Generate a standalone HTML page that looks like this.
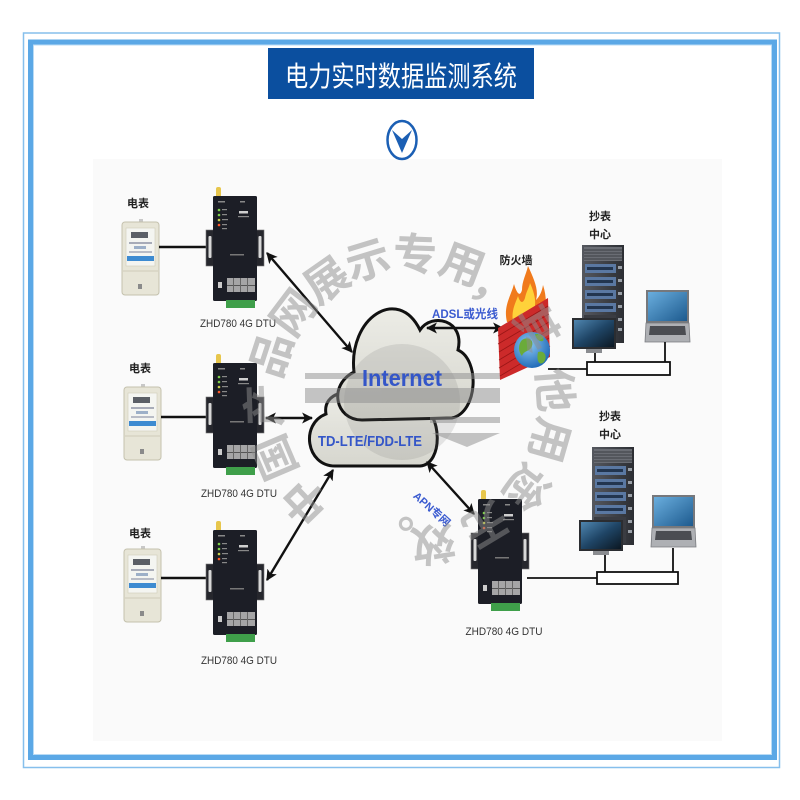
<!DOCTYPE html>
<html><head><meta charset="utf-8">
<style>
html,body{margin:0;padding:0;background:#fff;}
svg{display:block;}
text{font-family:"Liberation Sans","Noto Sans CJK SC",sans-serif;}
</style></head><body>
<svg width="800" height="800" viewBox="0 0 800 800" xmlns="http://www.w3.org/2000/svg">
<defs>
 <marker id="ah" viewBox="0 0 10 10" refX="9" refY="5" markerWidth="4.6" markerHeight="4.6" orient="auto-start-reverse"><path d="M0,0 L10,5 L0,10 L2.5,5 Z" fill="#111"/></marker>
 <linearGradient id="cl" x1="0" y1="0" x2="0" y2="1"><stop offset="0" stop-color="#ececE6"/><stop offset="1" stop-color="#d6d6ce"/></linearGradient>
 <linearGradient id="scr" x1="0" y1="0" x2="1" y2="1"><stop offset="0" stop-color="#4f86b0"/><stop offset=".5" stop-color="#1f4566"/><stop offset="1" stop-color="#0b1722"/></linearGradient>
 <linearGradient id="lapg" x1="0" y1="0" x2="1" y2="1"><stop offset="0" stop-color="#6aaede"/><stop offset="1" stop-color="#1d5a8e"/></linearGradient>
 <radialGradient id="glb" cx=".4" cy=".35" r=".7"><stop offset="0" stop-color="#8cc8f2"/><stop offset="1" stop-color="#1b66b5"/></radialGradient>
 <linearGradient id="srvg" x1="0" y1="0" x2="1" y2="0"><stop offset="0" stop-color="#55585f"/><stop offset="1" stop-color="#2c2e33"/></linearGradient>
 <g id="meter">
  <rect x="17" y="-3" width="4" height="3" fill="#c8c8c8"/>
  <rect x="0" y="0" width="37" height="73" rx="3" fill="#e7e5d7" stroke="#c4c1ad" stroke-width="1"/>
  <rect x="4" y="6" width="29" height="38" fill="#f4f5f1" stroke="#cfccba" stroke-width=".6"/>
  <rect x="9" y="10" width="17" height="6" fill="#5b5f66"/>
  <rect x="7" y="20" width="23" height="2" fill="#a8acb8"/>
  <rect x="12" y="24" width="12" height="3" fill="#9db0c8"/>
  <rect x="7" y="29" width="23" height="2" fill="#b8bcc6"/>
  <rect x="5" y="34" width="27" height="5" fill="#3d8bd1"/>
  <line x1="1" y1="49" x2="36" y2="49" stroke="#cfcbb8" stroke-width="1"/>
  <rect x="16" y="62" width="4" height="5" fill="#8a8a8a"/>
 </g>
 <g id="dtu">
  <rect x="3" y="-9" width="5" height="11" rx="2" fill="#e7c64c"/>
  <rect x="-7" y="34" width="9" height="36" fill="#26272d" stroke="#777" stroke-width=".6"/>
  <rect x="-4.5" y="40" width="3" height="22" rx="1" fill="#d8d8d8"/>
  <rect x="42" y="34" width="9" height="36" fill="#26272d" stroke="#777" stroke-width=".6"/>
  <rect x="45.5" y="40" width="3" height="22" rx="1" fill="#d8d8d8"/>
  <rect x="0" y="0" width="44" height="105" rx="1.5" fill="#1c1e26"/>
  <rect x="5" y="5" width="7" height="1.5" fill="#888"/>
  <rect x="27" y="5" width="5" height="1.5" fill="#888"/>
  <circle cx="6" cy="14" r="1.3" fill="#7fd04a"/>
  <circle cx="6" cy="19" r="1.3" fill="#7fd04a"/>
  <circle cx="6" cy="24" r="1.3" fill="#c8d04a"/>
  <circle cx="6" cy="29" r="1.3" fill="#ff5a2a"/>
  <rect x="9" y="13" width="5" height="1.2" fill="#888"/>
  <rect x="9" y="18" width="5" height="1.2" fill="#888"/>
  <rect x="9" y="23" width="6" height="1.2" fill="#888"/>
  <rect x="9" y="28" width="5" height="1.2" fill="#888"/>
  <rect x="9" y="32" width="5" height="1.2" fill="#888"/>
  <rect x="26" y="15" width="9" height="2.5" fill="#cfcfcf"/>
  <rect x="25" y="20" width="11" height="1.2" fill="#888"/>
  <rect x="17" y="58" width="14" height="1.5" fill="#777"/>
  <rect x="14" y="82" width="28" height="14" fill="#bdbdbd" opacity=".85"/>
  <rect x="14" y="89" width="28" height="1" fill="#555"/>
  <rect x="20" y="82" width="1" height="14" fill="#666"/>
  <rect x="27" y="82" width="1" height="14" fill="#666"/>
  <rect x="34" y="82" width="1" height="14" fill="#666"/>
  <rect x="5" y="86" width="4" height="6" fill="#ccc"/>
  <rect x="13" y="104" width="29" height="8" fill="#3f9f4a"/>
 </g>
 <g id="srv">
  <rect width="42" height="98" fill="url(#srvg)"/>
  <rect x="2" y="2" width="38" height="14" fill="#6a6d74"/>
  <g stroke="#2e3034" stroke-width=".8"><line x1="2" y1="5" x2="40" y2="5"/><line x1="2" y1="8" x2="40" y2="8"/><line x1="2" y1="11" x2="40" y2="11"/><line x1="2" y1="14" x2="40" y2="14"/></g>
  <rect x="3" y="19" width="31" height="9" fill="#5a78a2"/><rect x="5" y="22" width="26" height="3" fill="#22354f"/>
  <rect x="3" y="32" width="31" height="9" fill="#5a78a2"/><rect x="5" y="35" width="26" height="3" fill="#22354f"/>
  <rect x="3" y="45" width="31" height="9" fill="#5a78a2"/><rect x="5" y="48" width="26" height="3" fill="#22354f"/>
  <rect x="3" y="58" width="31" height="9" fill="#5a78a2"/><rect x="5" y="61" width="26" height="3" fill="#22354f"/>
  <g fill="#9aa0a8"><rect x="36" y="21" width="4" height="3"/><rect x="36" y="34" width="4" height="3"/><rect x="36" y="47" width="4" height="3"/><rect x="36" y="60" width="4" height="3"/><rect x="36" y="73" width="4" height="3"/><rect x="36" y="83" width="4" height="3"/></g>
  <rect x="2" y="70" width="32" height="26" fill="#3a3c42"/>
 </g>
 <g id="mon">
  <rect x="14" y="30" width="16" height="5" fill="#8a8c90"/>
  <rect width="44" height="31" fill="#2b2d31"/>
  <rect x="2" y="2" width="40" height="27" fill="url(#scr)"/>
 </g>
 <g id="laptop">
  <rect width="43" height="33" fill="#76787c"/>
  <rect x="2" y="2" width="39" height="29" fill="url(#lapg)"/>
  <polygon points="0,33 43,33 44,52 -1,52" fill="#aeb0b4" stroke="#7a7c80" stroke-width=".8"/>
  <polygon points="4,36 39,36 40,45 3,45" fill="#4b4d52"/>
 </g>
</defs>

<!-- frame -->
<rect x="23.5" y="33" width="756" height="734.5" fill="none" stroke="#86bfec" stroke-width="1.5"/>
<rect x="30.5" y="42" width="744" height="715.5" fill="none" stroke="#5ba8e6" stroke-width="5"/>
<rect x="33.5" y="45" width="738" height="709.5" fill="none" stroke="#b9dbf5" stroke-width="1"/>

<!-- diagram panel -->
<rect x="93" y="159" width="629" height="582" fill="#fafafa"/>

<!-- title -->
<rect x="268" y="48" width="266" height="51" fill="#0b4f9f"/>
<text x="401" y="86" font-size="28" fill="#fff" text-anchor="middle" textLength="232" lengthAdjust="spacingAndGlyphs">电力实时数据监测系统</text>

<!-- down icon -->
<ellipse cx="402" cy="140" rx="14.5" ry="19" fill="#fff" stroke="#1b5fb4" stroke-width="2.5"/>
<polygon points="392,130 402,139 412,130 402,153" fill="#1b5fb4"/>

<!-- meters -->
<g font-size="11" font-weight="bold" fill="#222" text-anchor="middle">
 <text x="138" y="207">电表</text>
 <text x="140" y="372">电表</text>
 <text x="140" y="537">电表</text>
</g>
<use href="#meter" x="122" y="222"/>
<use href="#meter" x="124" y="387"/>
<use href="#meter" x="124" y="549"/>
<g stroke="#111" stroke-width="2.6">
 <line x1="159" y1="247" x2="207" y2="247"/>
 <line x1="161" y1="417" x2="207" y2="417"/>
 <line x1="161" y1="578" x2="207" y2="578"/>
</g>

<!-- DTUs -->
<use href="#dtu" x="213" y="196"/>
<use href="#dtu" x="213" y="363"/>
<use href="#dtu" x="213" y="530"/>
<use href="#dtu" x="478" y="499"/>
<g font-size="11" fill="#333" text-anchor="middle">
 <text x="238" y="327" textLength="76" lengthAdjust="spacingAndGlyphs">ZHD780  4G DTU</text>
 <text x="239" y="497" textLength="76" lengthAdjust="spacingAndGlyphs">ZHD780  4G DTU</text>
 <text x="239" y="664" textLength="76" lengthAdjust="spacingAndGlyphs">ZHD780  4G DTU</text>
 <text x="504" y="635" textLength="77" lengthAdjust="spacingAndGlyphs">ZHD780  4G DTU</text>
</g>

<!-- clouds -->
<path d="M335,466 C306,466 300,424 326,414 C322,392 352,386 368,400 L420,405 C442,412 444,464 420,466 Z" fill="url(#cl)" stroke="#111" stroke-width="3"/>
<path d="M362,420 C335,420 328,385 354,372 C348,318 398,285 420,330 C432,312 465,320 458,350 C480,360 478,412 452,418 Z" fill="url(#cl)" stroke="#111" stroke-width="3"/>

<!-- logo overlay -->
<circle cx="402" cy="402" r="58" fill="#6f6f6f" opacity=".16"/>
<g fill="#8c8c8c" opacity=".5">
 <rect x="305" y="373" width="195" height="6"/>
 <rect x="305" y="388" width="195" height="15"/>
 <rect x="430" y="417" width="70" height="6"/>
 <polygon points="432,433 500,433 467,447"/>
</g>

<!-- arrows -->
<g stroke="#111" stroke-width="2.4" marker-start="url(#ah)" marker-end="url(#ah)">
 <line x1="267" y1="253" x2="352" y2="352"/>
 <line x1="266" y1="418" x2="312" y2="418"/>
 <line x1="267" y1="580" x2="333" y2="470"/>
 <line x1="427" y1="462" x2="474" y2="514"/>
 <line x1="427" y1="328" x2="503" y2="328"/>
</g>

<!-- cloud labels -->
<text x="402" y="386" font-size="23" font-weight="bold" fill="#3456c8" text-anchor="middle" textLength="80" lengthAdjust="spacingAndGlyphs">Internet</text>
<text x="370" y="446" font-size="15" font-weight="bold" fill="#3456c8" text-anchor="middle" textLength="104" lengthAdjust="spacingAndGlyphs">TD-LTE/FDD-LTE</text>
<text x="465" y="318" font-size="12" font-weight="bold" fill="#3b5bd0" text-anchor="middle" textLength="66" lengthAdjust="spacingAndGlyphs">ADSL或光线</text>
<text transform="translate(432,509) rotate(42)" font-size="11" font-weight="bold" fill="#3b5bd0" text-anchor="middle" dy="4">APN专网</text>

<!-- firewall -->
<text x="516" y="264" font-size="11" font-weight="bold" fill="#222" text-anchor="middle">防火墙</text>
<path d="M507,322 C503,306 511,296 514,284 C517,294 520,297 522,290 C522,281 526,275 528,266 C534,279 539,290 536,300 C540,296 542,291 543,285 C548,300 546,314 540,322 Z" fill="#f07a1c"/>
<path d="M513,322 C511,310 516,302 518,296 C520,303 523,304 525,298 C526,292 529,288 530,283 C534,292 537,302 534,310 C537,308 539,304 540,302 C541,310 539,318 536,322 Z" fill="#ffd23a"/>
<polygon points="498,328 548,298 550,357 500,380" fill="#cc2a2a"/>
<g stroke="#9b1616" stroke-width=".8">
 <line x1="498" y1="336" x2="548" y2="306"/>
 <line x1="498" y1="344" x2="549" y2="314"/>
 <line x1="499" y1="352" x2="549" y2="322"/>
 <line x1="499" y1="360" x2="549" y2="330"/>
 <line x1="499" y1="368" x2="549" y2="338"/>
 <line x1="500" y1="376" x2="550" y2="346"/>
</g>
<circle cx="532" cy="350" r="18" fill="url(#glb)"/>
<path d="M522,340 C528,336 534,340 532,346 C530,352 524,350 522,356 C518,352 518,344 522,340 Z" fill="#6aab3a"/>
<path d="M538,352 C544,350 548,356 544,362 C540,366 536,362 538,352 Z" fill="#6aab3a"/>
<path d="M535,334 C540,333 545,337 543,341 C539,342 536,339 535,334 Z" fill="#6aab3a"/>

<!-- center labels -->
<g font-size="11" font-weight="bold" fill="#222" text-anchor="middle">
 <text x="600" y="220">抄表</text>
 <text x="600" y="238">中心</text>
 <text x="610" y="420">抄表</text>
 <text x="610" y="438">中心</text>
</g>
<use href="#srv" x="582" y="245"/>
<use href="#mon" x="572" y="318"/>
<use href="#laptop" x="646" y="290"/>
<g stroke="#111" stroke-width="1.8">
 <line x1="548" y1="369" x2="587" y2="369"/>
 <line x1="595" y1="353" x2="595" y2="362"/>
 <line x1="665" y1="342" x2="665" y2="362"/>
</g>
<rect x="587" y="362" width="83" height="13" fill="#fff" stroke="#111" stroke-width="1.8"/>

<use href="#srv" x="592" y="447"/>
<use href="#mon" x="579" y="520"/>
<use href="#laptop" x="652" y="495"/>
<g stroke="#111" stroke-width="1.8">
 <line x1="527" y1="578" x2="597" y2="578"/>
 <line x1="605" y1="555" x2="605" y2="572"/>
 <line x1="673" y1="548" x2="673" y2="572"/>
</g>
<rect x="597" y="572" width="81" height="12" fill="#fff" stroke="#111" stroke-width="1.8"/>

<!-- watermark -->
<g font-size="44" font-weight="bold" fill="#8e8e8e" opacity=".5" text-anchor="middle" font-family="'Noto Sans CJK SC',sans-serif">
 <text transform="translate(306,501) rotate(226)" dy="15">中</text>
 <text transform="translate(276,457) rotate(247)" dy="15">国</text>
 <text transform="translate(265,405) rotate(268)" dy="15">产</text>
 <text transform="translate(272,355) rotate(288)" dy="15">品</text>
 <text transform="translate(294,313) rotate(307)" dy="15">网</text>
 <text transform="translate(327,281) rotate(325)" dy="15">展</text>
 <text transform="translate(368,261) rotate(343)" dy="15">示</text>
 <text transform="translate(415,255) rotate(2)" dy="15">专</text>
 <text transform="translate(462,265) rotate(21)" dy="15">用</text>
 <text transform="translate(495,290) rotate(37)" dy="15">，</text>
 <text transform="translate(536,328) rotate(60)" dy="15">其</text>
 <text transform="translate(554,390) rotate(86)" dy="15">他</text>
 <text transform="translate(549,440) rotate(106)" dy="15">用</text>
 <text transform="translate(526,487) rotate(127)" dy="15">途</text>
 <text transform="translate(485,524) rotate(149)" dy="15">无</text>
 <text transform="translate(433,543) rotate(171)" dy="15">效</text>
 <text transform="translate(391,533) rotate(188)" dy="15">。</text>
</g>
</svg>
</body></html>
